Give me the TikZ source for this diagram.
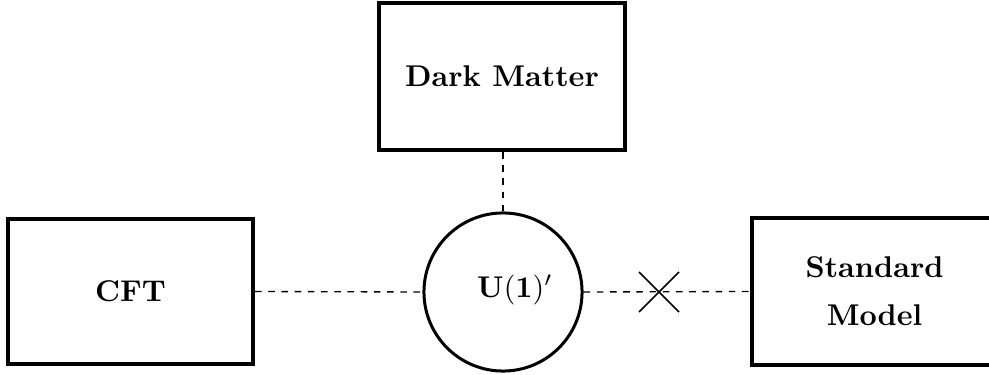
\documentclass[tikz,border=0pt]{standalone}
\begin{document}
\begin{tikzpicture}[x=0.33333pt,y=-0.33333pt,
  boxnode/.style={draw,line width=1.33pt,rectangle,minimum width=81.7pt,minimum height=49pt,inner sep=0pt,align=center,font=\bfseries},
  ringnode/.style={draw,line width=1pt,circle,minimum size=52.7pt,inner sep=0pt},
  link/.style={line width=0.45pt,dash pattern=on 2.2pt off 2.2pt},
  crossline/.style={line width=0.5pt}]
\clip (0,0) rectangle (989,375);
\node[boxnode] (dm) at (502,76.5) {Dark Matter};
\node[boxnode,minimum height=48.3pt] (cft) at (130.5,291.5) {CFT};
\node[boxnode] (sm) at (874.5,291.5) {Standard\\[4pt]Model};
\node[ringnode] (u) at (503,292) {};
\node (ulabel) at (515,290) {$\mathbf{U}(\mathbf{1})'$};
\coordinate (cut) at (659,292);
\draw[link] (cft.east) -- (u.west);
\draw[link] (u.east) -- (sm.west);
\draw[link] (dm.south -| u.north) -- (u.north);
\draw[crossline] (cut) ++(-20,-20) -- ++(40,40);
\draw[crossline] (cut) ++(-20,20) -- ++(40,-40);
\end{tikzpicture}
\end{document}
